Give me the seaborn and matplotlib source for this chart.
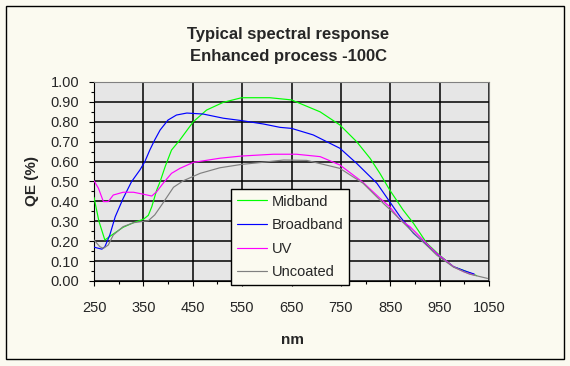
import pandas as pd
import matplotlib
matplotlib.use("Agg")
import matplotlib.pyplot as plt
import seaborn as sns
import numpy as np
from matplotlib.patches import Rectangle
from matplotlib.ticker import FormatStrFormatter

# (nm, QE)
mid_nm = [250, 260, 272, 286, 309, 330, 350, 360, 367, 377, 384, 394, 407, 424, 451, 478, 512, 549,
          606, 650, 708, 748, 782, 809, 829, 849, 876, 897, 924, 947, 978, 1005, 1025]
mid_qe = [0.42, 0.30, 0.206, 0.231, 0.27, 0.293, 0.31, 0.33, 0.373, 0.457, 0.50, 0.574, 0.658, 0.709, 0.80,
          0.859, 0.898, 0.921, 0.921, 0.91, 0.85, 0.784, 0.70, 0.617, 0.541, 0.457, 0.357, 0.29, 0.19,
          0.136, 0.072, 0.047, 0.027]

broad_nm = [250, 266, 272, 282, 293, 309, 326, 343, 353, 363, 373, 384, 400, 417, 438, 471, 512, 549,
            593, 627, 650, 694, 748, 782, 823, 849, 870, 897, 924, 947, 978, 1005, 1020]
broad_qe = [0.17, 0.16, 0.172, 0.231, 0.323, 0.415, 0.499, 0.558, 0.60, 0.658, 0.709, 0.759, 0.809, 0.834,
            0.844, 0.839, 0.818, 0.806, 0.789, 0.772, 0.767, 0.734, 0.667, 0.591, 0.491, 0.398, 0.323,
            0.24, 0.181, 0.131, 0.072, 0.047, 0.035]

uv_nm = [250, 259, 269, 279, 289, 309, 330, 350, 367, 377, 390, 407, 424, 451, 505, 549, 613, 660, 708,
         748, 795, 829, 849, 870, 890, 910, 930, 944, 978, 1000, 1020]
uv_qe = [0.504, 0.466, 0.399, 0.399, 0.432, 0.446, 0.446, 0.436, 0.427, 0.449, 0.491, 0.541, 0.566, 0.596,
         0.617, 0.628, 0.637, 0.637, 0.625, 0.583, 0.495, 0.416, 0.373, 0.307, 0.273, 0.223, 0.172,
         0.139, 0.072, 0.045, 0.03]

unc_nm = [250, 262, 269, 279, 289, 309, 330, 360, 373, 387, 411, 431, 465, 505, 549, 590, 634, 681, 748,
          795, 836, 849, 890, 930, 944, 978, 1010, 1047]
unc_qe = [0.206, 0.172, 0.164, 0.181, 0.231, 0.273, 0.293, 0.303, 0.332, 0.382, 0.471, 0.504, 0.541,
          0.569, 0.586, 0.596, 0.608, 0.606, 0.566, 0.491, 0.39, 0.36, 0.26, 0.164, 0.13, 0.07, 0.035,
          0.013]

names = ["Midband", "Broadband", "UV", "Uncoated"]
colores = ["#00ff00", "#0000ff", "#ff00ff", "#808080"]

x_ticks = [250, 350, 450, 550, 650, 750, 850, 950, 1050]
x_minor = [300, 400, 500, 600, 700, 800, 900, 1000]
y_ticks = [0.0, 0.1, 0.2, 0.3, 0.4, 0.5, 0.6, 0.7, 0.8, 0.9, 1.0]
y_minor = [0.05, 0.15, 0.25, 0.35, 0.45, 0.55, 0.65, 0.75, 0.85, 0.95]

df = pd.concat([
    pd.DataFrame({"nm": mid_nm, "QE": mid_qe, "serie": names[0]}),
    pd.DataFrame({"nm": broad_nm, "QE": broad_qe, "serie": names[1]}),
    pd.DataFrame({"nm": uv_nm, "QE": uv_qe, "serie": names[2]}),
    pd.DataFrame({"nm": unc_nm, "QE": unc_qe, "serie": names[3]}),
])

fondo = "#fbfaf0"
sns.set_style("white", {"axes.facecolor": "#e6e6e6"})
plt.rcParams["font.family"] = ["Liberation Sans", "DejaVu Sans"]

fig = plt.figure(figsize=(5.7, 3.66), dpi=100, facecolor=fondo)
ax = fig.add_axes([94 / 570, 1 - 281 / 366, 395 / 570, 199 / 366])

sns.lineplot(data=df, x="nm", y="QE", hue="serie", palette=colores, hue_order=names,
             estimator=None, sort=False, linewidth=0.85, ax=ax, zorder=3)

ax.set_xlim(250, 1050)
ax.set_ylim(0, 1.0)
ax.set_xticks(x_ticks)
ax.set_xticks(x_minor, minor=True)
ax.set_yticks(y_ticks)
ax.set_yticks(y_minor, minor=True)
ax.yaxis.set_major_formatter(FormatStrFormatter("%.2f"))
ax.grid(True, which="major", color="black", linewidth=1.1)
ax.set_axisbelow(True)

ax.tick_params(which="major", direction="out", length=3.6, width=0.8, color="black",
               labelsize=10.5, bottom=True, left=True)
ax.tick_params(which="minor", direction="out", length=2, width=0.8, color="black",
               bottom=True, left=True)
ax.tick_params(axis="x", which="major", pad=10.5)
ax.tick_params(axis="y", which="major", pad=7)

for s in ["left", "bottom"]:
    ax.spines[s].set_color("black")
    ax.spines[s].set_linewidth(0.8)
for s in ["top", "right"]:
    ax.spines[s].set_color("#808080")
    ax.spines[s].set_linewidth(0.8)

ax.set_xlabel("")
ax.set_ylabel("")
fig.text(32 / 570, 1 - 181 / 366, "QE (%)", rotation=90, ha="center", va="center",
         fontsize=11, fontweight="bold")
fig.text(292 / 570, 1 - 340 / 366, "nm", ha="center", va="center", fontsize=11, fontweight="bold")
fig.text(288 / 570, 1 - 34 / 366, "Typical spectral response", ha="center", va="center",
         fontsize=12, fontweight="bold")
fig.text(288 / 570, 1 - 57 / 366, "Enhanced process -100C", ha="center", va="center",
         fontsize=12, fontweight="bold")

handles, labels = ax.get_legend_handles_labels()
ax.get_legend().remove()
leg = fig.legend(handles, labels, loc="upper left",
                 bbox_to_anchor=(231 / 570, 1 - 189 / 366), borderaxespad=0,
                 frameon=True, fancybox=False, framealpha=1, facecolor=fondo,
                 edgecolor="black", fontsize=10.5, handlelength=2.1, handletextpad=0.3,
                 labelspacing=0.66, borderpad=0.38)
leg.get_frame().set_linewidth(1.0)

fig.patches.append(Rectangle((6 / 570, 1 - 359 / 366), 558 / 570, 353 / 366,
                             transform=fig.transFigure, fill=False, edgecolor="black",
                             linewidth=1.0))

plt.savefig("out.png", dpi=100, facecolor=fondo)
